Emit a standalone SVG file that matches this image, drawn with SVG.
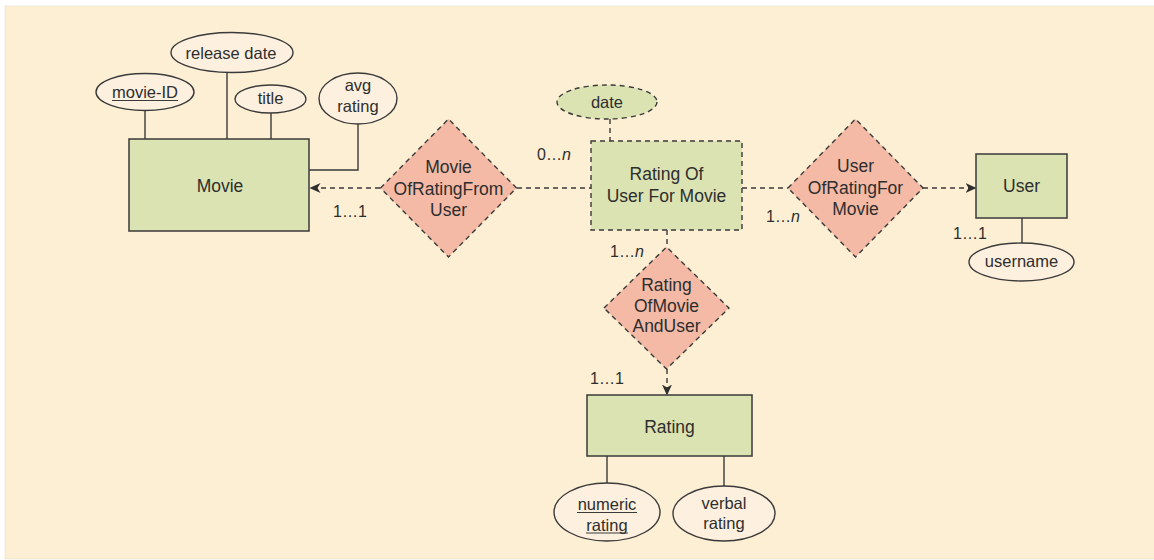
<svg xmlns="http://www.w3.org/2000/svg" width="1154" height="560" viewBox="0 0 1154 560">
<defs>
<marker id="arr" viewBox="0 0 11 10" refX="10.5" refY="5" markerWidth="11" markerHeight="10" markerUnits="userSpaceOnUse" orient="auto">
<path d="M0,0 L11,5 L0,10 L3,5 Z" fill="#2e2e2e"/>
</marker>
</defs>
<style>
text{font-family:"Liberation Sans",Arial,sans-serif;fill:#2e2e2e;text-anchor:middle}
.lbl{font-size:17.5px}
.att{font-size:16.5px}
.card{font-size:16px;text-anchor:start}
.ent{fill:#dbe3b3;stroke:#3a3a3a;stroke-width:1.5}
.went{fill:#dbe3b3;stroke:#3a3a3a;stroke-width:1.4;stroke-dasharray:5 4}
.rel{fill:#f4baa6;stroke:#3a3a3a;stroke-width:1.4;stroke-dasharray:5 4}
.attr{fill:#fdf0df;stroke:#3a3a3a;stroke-width:1.4}
.wattr{fill:#dbe3b3;stroke:#3a3a3a;stroke-width:1.4;stroke-dasharray:5 4}
.ln{fill:none;stroke:#3a3a3a;stroke-width:1.4}
.dl{fill:none;stroke:#3a3a3a;stroke-width:1.4;stroke-dasharray:5 4}
.ul{stroke:#3a3a3a;stroke-width:1.2}
</style>
<rect x="5" y="6" width="1150" height="553" fill="#fdefd3" stroke="#e6dcc6" stroke-width="0.6"/>

<g id="connectors">
<line class="ln" x1="145" y1="110" x2="145" y2="139"/>
<line class="ln" x1="227" y1="72" x2="227" y2="139"/>
<line class="ln" x1="271" y1="113" x2="271" y2="139"/>
<polyline class="ln" points="358,124 358,170 309,170"/>
<line class="dl" x1="380" y1="188" x2="310" y2="188" marker-end="url(#arr)"/>
<line class="dl" x1="517" y1="188" x2="591" y2="188"/>
<line class="dl" x1="742" y1="188" x2="788" y2="188"/>
<line class="dl" x1="923" y1="188" x2="976" y2="188" marker-end="url(#arr)"/>
<polyline class="dl" points="610,119 610,134 610,141"/>
<line class="dl" x1="667" y1="230" x2="667" y2="247"/>
<line class="dl" x1="667" y1="369" x2="667" y2="395" marker-end="url(#arr)"/>
<line class="ln" x1="1022" y1="218" x2="1022" y2="243"/>
<line class="ln" x1="607" y1="456" x2="607" y2="483"/>
<line class="ln" x1="724" y1="456" x2="724" y2="486"/>
<text class="card" x="537" y="160">0…<tspan font-style="italic">n</tspan></text>
<text class="card" x="333" y="217">1…1</text>
<text class="card" x="610" y="257">1…<tspan font-style="italic">n</tspan></text>
<text class="card" x="590" y="384">1…1</text>
<text class="card" x="766" y="222">1…<tspan font-style="italic">n</tspan></text>
<text class="card" x="953" y="239">1…1</text>
</g>

<g id="movie">
<rect class="ent" x="129" y="139" width="180" height="92"/>
<text class="lbl" x="220" y="192">Movie</text>
</g>
<g id="movie-id">
<ellipse class="attr" cx="145" cy="92" rx="49" ry="18.5"/>
<text class="att" x="145" y="98">movie-ID</text>
<line class="ul" x1="112" y1="100.5" x2="178" y2="100.5"/>
</g>
<g id="release-date">
<ellipse class="attr" cx="232" cy="52.5" rx="61" ry="20"/>
<text class="att" x="231" y="58.5">release date</text>
</g>
<g id="title">
<ellipse class="attr" cx="270.5" cy="99" rx="35.5" ry="14"/>
<text class="att" x="270.5" y="104">title</text>
</g>
<g id="avg-rating">
<ellipse class="attr" cx="358" cy="98.5" rx="39" ry="25.5"/>
<text class="att" x="358" y="91">avg</text>
<text class="att" x="358" y="112">rating</text>
</g>

<g id="movie-of-rating-from-user">
<polygon class="rel" points="380.5,188 448.5,119 516.5,188 448.5,257"/>
<text class="lbl" x="448.5" y="172.5">Movie</text>
<text class="lbl" x="448.5" y="194.5">OfRatingFrom</text>
<text class="lbl" x="448.5" y="215.5">User</text>
</g>

<g id="date">
<ellipse class="wattr" cx="607" cy="102" rx="50" ry="17"/>
<text class="att" x="607" y="107.5">date</text>
</g>

<g id="rating-of-user-for-movie">
<rect class="went" x="591" y="141" width="151" height="89"/>
<text class="lbl" x="666.5" y="180">Rating Of</text>
<text class="lbl" x="666.5" y="201.5">User For Movie</text>
</g>

<g id="user-of-rating-for-movie">
<polygon class="rel" points="788,188 855.5,119 923,188 855.5,257"/>
<text class="lbl" x="855.5" y="172">User</text>
<text class="lbl" x="855.5" y="193.5">OfRatingFor</text>
<text class="lbl" x="855.5" y="214.5">Movie</text>
</g>

<g id="user">
<rect class="ent" x="976" y="154" width="91" height="64"/>
<text class="lbl" x="1021.5" y="192">User</text>
</g>
<g id="username">
<ellipse class="attr" cx="1021.5" cy="262" rx="52.5" ry="19"/>
<text class="att" x="1021.5" y="267">username</text>
</g>

<g id="rating-of-movie-and-user">
<polygon class="rel" points="604,308 666.5,247 729,308 666.5,369"/>
<text class="lbl" x="666.5" y="290.5">Rating</text>
<text class="lbl" x="666.5" y="311.5">OfMovie</text>
<text class="lbl" x="666.5" y="332">AndUser</text>
</g>

<g id="rating">
<rect class="ent" x="587" y="395" width="165" height="61"/>
<text class="lbl" x="669.5" y="432.5">Rating</text>
</g>
<g id="numeric-rating">
<ellipse class="attr" cx="607" cy="512" rx="53" ry="29"/>
<text class="att" x="607" y="510">numeric</text>
<text class="att" x="607" y="530.5">rating</text>
<line class="ul" x1="577" y1="512.5" x2="637" y2="512.5"/>
<line class="ul" x1="586" y1="533" x2="628" y2="533"/>
</g>
<g id="verbal-rating">
<ellipse class="attr" cx="724" cy="513.5" rx="51" ry="27.5"/>
<text class="att" x="724" y="508.5">verbal</text>
<text class="att" x="724" y="529">rating</text>
</g>
</svg>
